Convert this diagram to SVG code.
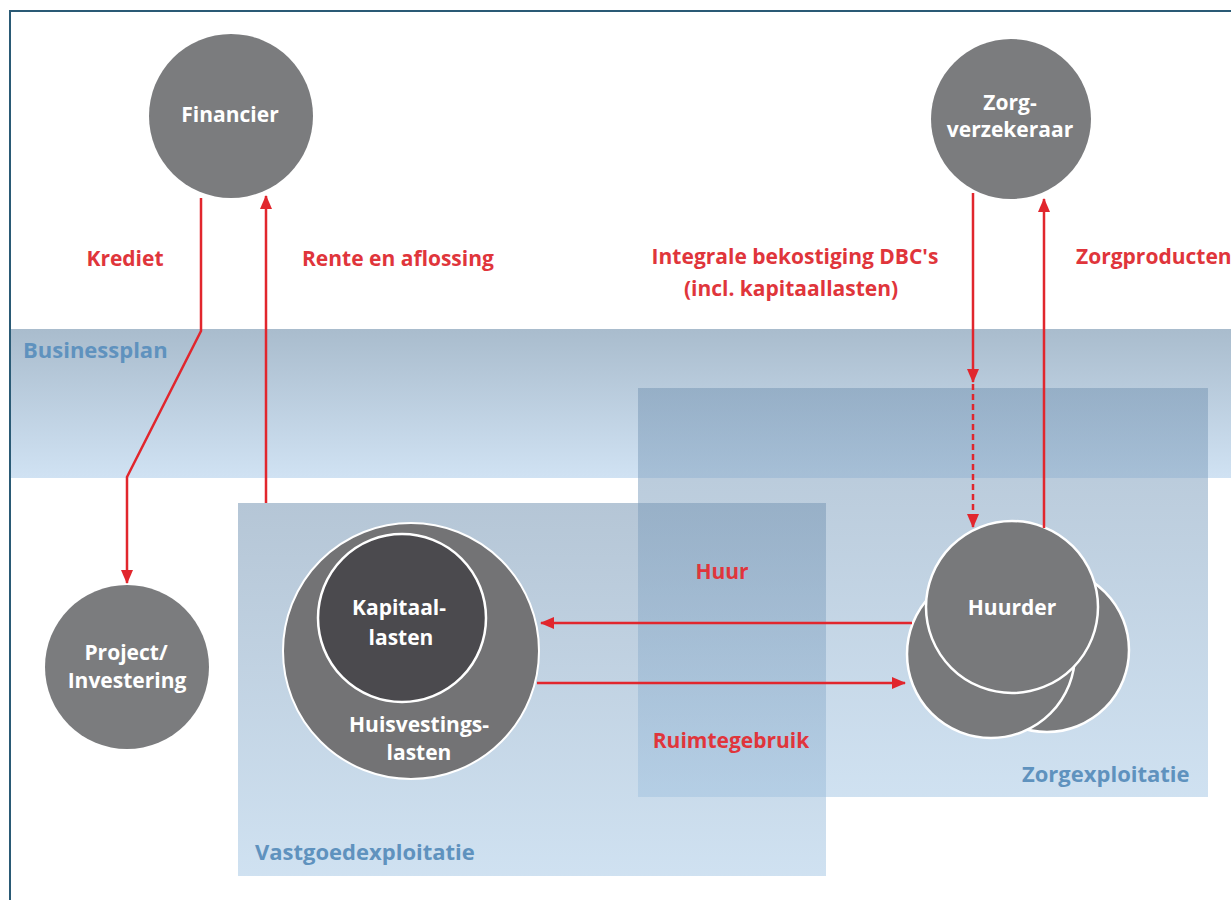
<svg xmlns="http://www.w3.org/2000/svg" width="1231" height="900" viewBox="0 0 1231 900">
<defs>
<linearGradient id="band" x1="0" y1="0" x2="0" y2="1">
<stop offset="0" stop-color="#a9bccd"/>
<stop offset="1" stop-color="#d0e2f3"/>
</linearGradient>
<linearGradient id="zone" x1="0" y1="0" x2="0" y2="1">
<stop offset="0" stop-color="#7b99b6" stop-opacity="0.56"/>
<stop offset="1" stop-color="#aacae6" stop-opacity="0.56"/>
</linearGradient>
<marker id="ah" viewBox="0 0 14 12" refX="13" refY="6" markerWidth="14" markerHeight="12" markerUnits="userSpaceOnUse" orient="auto">
<path d="M0,0 L14,6 L0,12 Z" fill="#e1262d"/>
</marker>
</defs>
<style>
.node{fill:#7b7c7e}
.wl{font-family:"Open Sans","Noto Sans",sans-serif;font-weight:700;font-size:21px;fill:#ffffff;text-anchor:middle}
.rl{font-family:"Open Sans","Noto Sans",sans-serif;font-weight:700;font-size:21px;fill:#e0353b}
.bl{font-family:"Open Sans","Noto Sans",sans-serif;font-weight:700;font-size:22px;fill:#5f92be}
.conn{fill:none;stroke:#e1262d;stroke-width:2.5}
</style>
<rect x="0" y="0" width="1231" height="900" fill="#ffffff"/>
<g id="frame" fill="none" stroke="#2a5a75" stroke-width="2">
<path d="M10,900 L10,11 L1231,11"/>
</g>
<g id="businessplan">
<rect x="11" y="329" width="1220" height="149" fill="url(#band)"/>
<text class="bl" x="23" y="358">Businessplan</text>
</g>
<g id="zorgexploitatie">
<rect x="638" y="388" width="570" height="409" fill="url(#zone)"/>
<text class="bl" x="1022" y="782">Zorgexploitatie</text>
</g>
<g id="vastgoedexploitatie">
<rect x="238" y="503" width="588" height="373" fill="url(#zone)"/>
<text class="bl" x="255" y="860">Vastgoedexploitatie</text>
</g>
<g id="financier">
<circle class="node" cx="231" cy="116" r="82"/>
<text class="wl" x="230" y="122">Financier</text>
</g>
<g id="zorgverzekeraar">
<circle class="node" cx="1011" cy="119" r="80"/>
<text class="wl" x="1010" y="110">Zorg-</text>
<text class="wl" x="1010" y="137">verzekeraar</text>
</g>
<g id="project">
<circle class="node" cx="127" cy="667" r="82"/>
<text class="wl" x="126" y="660">Project/</text>
<text class="wl" x="127" y="688">Investering</text>
</g>
<g id="huisvestingslasten">
<circle cx="411" cy="651" r="128" fill="#737375" stroke="#ffffff" stroke-width="2"/>
<text class="wl" x="419" y="732">Huisvestings-</text>
<text class="wl" x="419" y="760">lasten</text>
</g>
<g id="kapitaallasten">
<circle cx="402" cy="618" r="84" fill="#4b4a4e" stroke="#ffffff" stroke-width="2.5"/>
<text class="wl" x="399" y="615">Kapitaal-</text>
<text class="wl" x="401" y="645">lasten</text>
</g>
<g id="huurder">
<circle cx="1047" cy="650" r="82" fill="#78797b" stroke="#ffffff" stroke-width="2.5"/>
<circle cx="991" cy="654" r="84" fill="#78797b" stroke="#ffffff" stroke-width="2.5"/>
<circle cx="1012" cy="607" r="86" fill="#78797b" stroke="#ffffff" stroke-width="2.5"/>
<text class="wl" x="1012" y="615">Huurder</text>
</g>
<g id="connectors">
<path class="conn" d="M201,198 L201,331 L127,477 L127,583" marker-end="url(#ah)"/>
<path class="conn" d="M266,503 L266,196" marker-end="url(#ah)"/>
<path class="conn" d="M973,193 L973,382" marker-end="url(#ah)"/>
<path class="conn" d="M973,384 L973,527" stroke-dasharray="6,4" marker-end="url(#ah)"/>
<path class="conn" d="M1044,528 L1044,199" marker-end="url(#ah)"/>
<path class="conn" d="M912,623 L541,623" marker-end="url(#ah)"/>
<path class="conn" d="M537,683 L905,683" marker-end="url(#ah)"/>
</g>
<g id="labels">
<text class="rl" x="125" y="266" text-anchor="middle">Krediet</text>
<text class="rl" x="302" y="266">Rente en aflossing</text>
<text class="rl" x="795" y="264" text-anchor="middle">Integrale bekostiging DBC's</text>
<text class="rl" x="791" y="296" text-anchor="middle">(incl. kapitaallasten)</text>
<text class="rl" x="1076" y="264">Zorgproducten</text>
<text class="rl" x="722" y="579" text-anchor="middle">Huur</text>
<text class="rl" x="731" y="748" text-anchor="middle">Ruimtegebruik</text>
</g>
</svg>
